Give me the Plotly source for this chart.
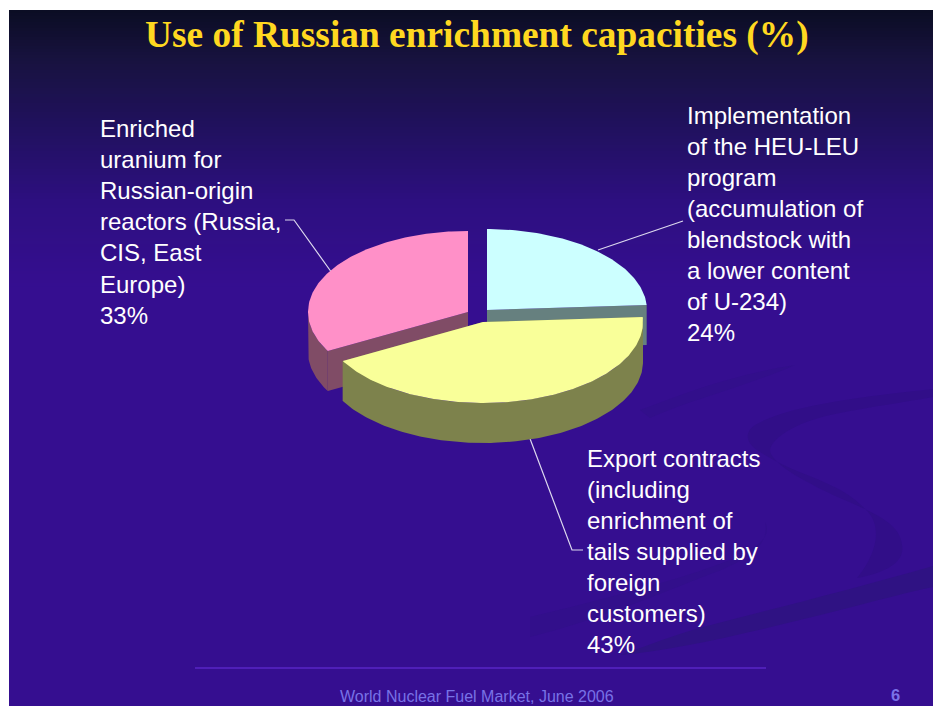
import math
import plotly.graph_objects as go

# Slide contents
title = "Use of Russian enrichment capacities (%)"
footer = "World Nuclear Fuel Market, June 2006"
page_number = "6"

shares = [24, 43, 33]
slice_names = ["HEU-LEU program", "Export contracts", "Russian-origin reactors"]
top_colors = ["#CCFFFF", "#F9FF99", "#FF90C8"]
wall_colors = ["#66807F", "#7D824C", "#804C66"]
apex_x = [487, 483, 468]
apex_y = [310, 322, 312]

label_hl = ["Implementation", "of the HEU-LEU", "program", "(accumulation of",
            "blendstock with", "a lower content", "of U-234)", "24%"]
label_export = ["Export contracts", "(including", "enrichment of",
                "tails supplied by", "foreign", "customers)", "43%"]
label_russia = ["Enriched", "uranium for", "Russian-origin",
                "reactors (Russia,", "CIS, East", "Europe)", "33%"]

# Pie projection in pixels
RX, RY, DEPTH = 160, 81, 40
W, H = 933, 706
SLIDE_LEFT, SLIDE_TOP = 9, 10


def rim(cx, cy, deg, drop=0):
    a = math.radians(deg)
    return cx + RX * math.sin(a), cy - RY * math.cos(a) + drop


def arc(cx, cy, start, end, drop=0):
    n = max(2, int(abs(end - start)) + 1)
    pts = [rim(cx, cy, start + (end - start) * i / (n - 1), drop) for i in range(n)]
    return [p[0] for p in pts], [p[1] for p in pts]


def polygon(xs, ys, color, name):
    return go.Scatter(x=xs, y=ys, mode="lines", fill="toself", fillcolor=color,
                      line=dict(width=0, color=color), name=name,
                      hoverinfo="name", showlegend=False)


fig = go.Figure()

# Leader lines run underneath the pie
leaders = [
    ([683, 598], [221, 250]),
    ([285, 294, 332], [220, 220, 273]),
    ([529, 572, 583], [436, 550, 550]),
]
for lx, ly in leaders:
    fig.add_trace(go.Scatter(x=lx, y=ly, mode="lines", hoverinfo="skip", showlegend=False,
                             line=dict(color="#DCD8EE", width=1.2)))

# Slices, back to front: cyan, pink, yellow
angle = 0.0
spans = []
for s in shares:
    spans.append((angle, angle + s * 3.6))
    angle += s * 3.6

for i in [0, 2, 1]:
    cx, cy = apex_x[i], apex_y[i]
    start, end = spans[i]
    for deg in (start, end):
        ex, ey = rim(cx, cy, deg)
        fig.add_trace(polygon([cx, ex, ex, cx, cx], [cy, ey, ey + DEPTH, cy + DEPTH, cy],
                              wall_colors[i], slice_names[i]))
    lo, hi = max(start, 90), min(end, 270)
    if hi > lo:
        ux, uy = arc(cx, cy, lo, hi)
        dx, dy = arc(cx, cy, lo, hi, DEPTH)
        fig.add_trace(polygon(ux + dx[::-1] + [ux[0]], uy + dy[::-1] + [uy[0]],
                              wall_colors[i], slice_names[i]))
    ax, ay = arc(cx, cy, start, end)
    fig.add_trace(polygon([cx] + ax + [cx], [cy] + ay + [cy], top_colors[i], slice_names[i]))

# Vertical background gradient
stops = [(10, (11, 13, 36)), (60, (24, 18, 64)), (130, (33, 17, 96)),
         (200, (45, 15, 128)), (285, (53, 14, 144))]
shapes = [dict(type="rect", layer="below", x0=SLIDE_LEFT, x1=W, y0=285, y1=H,
               fillcolor="#350E90", line_width=0)]
for y in range(10, 285, 3):
    for (y0, c0), (y1, c1) in zip(stops, stops[1:]):
        if y0 <= y < y1:
            t = (y - y0) / (y1 - y0)
            rgb = tuple(round(a + (b - a) * t) for a, b in zip(c0, c1))
            shapes.append(dict(type="rect", layer="below", x0=SLIDE_LEFT, x1=W, y0=y, y1=y + 3.5,
                               fillcolor="rgb(%d,%d,%d)" % rgb, line_width=0))

# Faint ribbon artwork in the slide master
ribbons = [
    ("M 933 389 C 860 397 790 405 755 425 C 742 434 748 445 760 452 "
     "C 800 478 840 480 868 512 C 880 525 880 550 857 578 "
     "C 890 572 905 560 902 545 C 900 525 880 515 840 498 "
     "C 800 480 770 462 770 450 C 772 437 800 420 840 413 C 870 407 905 402 933 397 Z", "#310E88"),
    ("M 933 566 C 850 590 760 612 700 628 C 670 636 650 645 620 655 "
     "C 680 650 760 630 840 610 C 875 601 905 593 933 587 Z", "#2F1283"),
    ("M 530 617 C 600 600 680 580 730 560 C 760 548 772 535 765 522 "
     "C 770 545 750 560 700 578 C 650 598 590 622 530 637 Z", "#320F8B"),
    ("M 640 410 C 680 395 730 375 795 365 C 750 385 690 400 650 418 Z", "#320F8B"),
]
for path, color in ribbons:
    shapes.append(dict(type="path", layer="below", path=path, fillcolor=color, line_width=0))

# Footer rule
shapes.append(dict(type="line", layer="below", x0=195, x1=766, y0=668, y1=668,
                   line=dict(color="#6A30E0", width=1)))

annotations = [
    dict(x=477, y=35, text="<b>%s</b>" % title, showarrow=False, xanchor="center", yanchor="middle",
         font=dict(family="Liberation Serif", size=37.4, color="#FFD820")),
    dict(x=338, y=696, text=footer, showarrow=False, xanchor="left", yanchor="middle",
         font=dict(family="Liberation Sans", size=16, color="#7872E6")),
    dict(x=895, y=695, text="<b>%s</b>" % page_number, showarrow=False, xanchor="center", yanchor="middle",
         font=dict(family="Liberation Sans", size=16.5, color="#7A72E8")),
]
label_blocks = [(687, 115, 31.1, label_hl), (587, 458, 31.0, label_export), (100, 128, 31.2, label_russia)]
for x, y0, step, lines in label_blocks:
    for j, line in enumerate(lines):
        annotations.append(dict(x=x, y=y0 + j * step, text=line, showarrow=False,
                                xanchor="left", yanchor="middle", xshift=-2,
                                font=dict(family="Liberation Sans", size=24, color="#FFFFFF")))

fig.update_layout(
    width=W, height=H, autosize=False,
    margin=dict(l=0, r=0, t=0, b=0),
    paper_bgcolor="#FFFFFF", plot_bgcolor="#FFFFFF",
    showlegend=False,
    xaxis=dict(range=[0, W], visible=False, fixedrange=True),
    yaxis=dict(range=[H, 0], visible=False, fixedrange=True),
    shapes=shapes, annotations=annotations,
)

fig.write_html("out.html", config=dict(displayModeBar=False))
